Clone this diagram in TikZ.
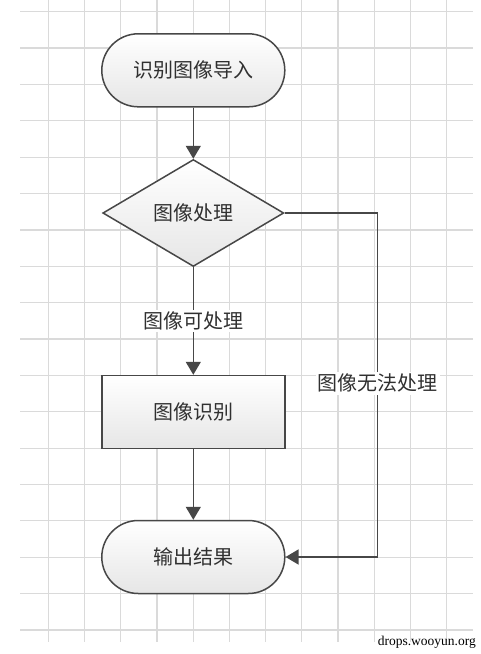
\documentclass[tikz,border=0pt]{standalone}
\usepackage{fontspec}
\newfontfamily\cjk{Noto Sans CJK SC}
\setmainfont{Liberation Serif}
\usetikzlibrary{arrows.meta,shapes.geometric,calc}
\definecolor{gridc}{HTML}{DADADA}
\definecolor{edgec}{HTML}{474747}
\definecolor{textc}{HTML}{303030}
\definecolor{fillb}{HTML}{E6E6E6}
\tikzset{
  shapebase/.style={draw=edgec, line width=1.5pt, top color=white, bottom color=fillb,
    text=textc, font=\cjk\fontsize{20}{20}\selectfont, inner sep=0pt},
  terminal/.style={shapebase, rounded corners=36.5pt, minimum width=183pt, minimum height=73pt},
  process/.style={shapebase, minimum width=183pt, minimum height=73pt},
  decision/.style={shapebase, diamond, aspect=1.7, minimum width=181pt, minimum height=107pt},
  conn/.style={draw=edgec, line width=1.5pt, -{Triangle[width=15pt,length=13pt]}},
  lbl/.style={fill=white, text=textc, font=\cjk\fontsize{20}{20}\selectfont, inner sep=2pt},
}
\begin{document}
\begin{tikzpicture}[x=1pt,y=-1pt]
\useasboundingbox (0,0) rectangle (480,654);
\fill[white] (0,0) rectangle (480,654);
% grid
\foreach \i in {0,...,17} {
  \draw[gridc, line width=1.2pt] (20,{11.7+36.37*\i}) -- (473,{11.7+36.37*\i});
}
\foreach \i in {0,...,11} {
  \draw[gridc, line width=1.2pt] ({48.3+36.22*\i},0) -- ({48.3+36.22*\i},642);
}
% nodes
\node[terminal] (start) at (193.3,70.3) {识别图像导入};
\node[decision] (dec) at (193.3,213) {};
\node[text=textc, font=\cjk\fontsize{20}{20}\selectfont] (dectxt) at (193.3,213) {图像处理};
\node[process] (proc) at (193.3,412) {图像识别};
\node[terminal] (out) at (193.3,557) {输出结果};
\coordinate (c1) at (377.7,213);
\coordinate (c2) at (377.7,557);
% connectors
\draw[conn] (start.south) -- (dec.north);
\draw[conn] (dec.south) -- node[lbl, pos=0.5] (l1) {图像可处理} (proc.north);
\draw[conn] (proc.south) -- (out.north);
\draw[draw=edgec, line width=1.5pt] (dec.east) -- (c1) -- (c2);
\draw[conn] (c2) -- (out.east);
\node[lbl] (l2) at (377.7,383.3) {图像无法处理};
% watermark
\node[font=\fontsize{13.5}{13.5}\selectfont, text=black, anchor=east, inner sep=0pt] (wm) at (476,642) {drops.wooyun.org};
\end{tikzpicture}
\end{document}
